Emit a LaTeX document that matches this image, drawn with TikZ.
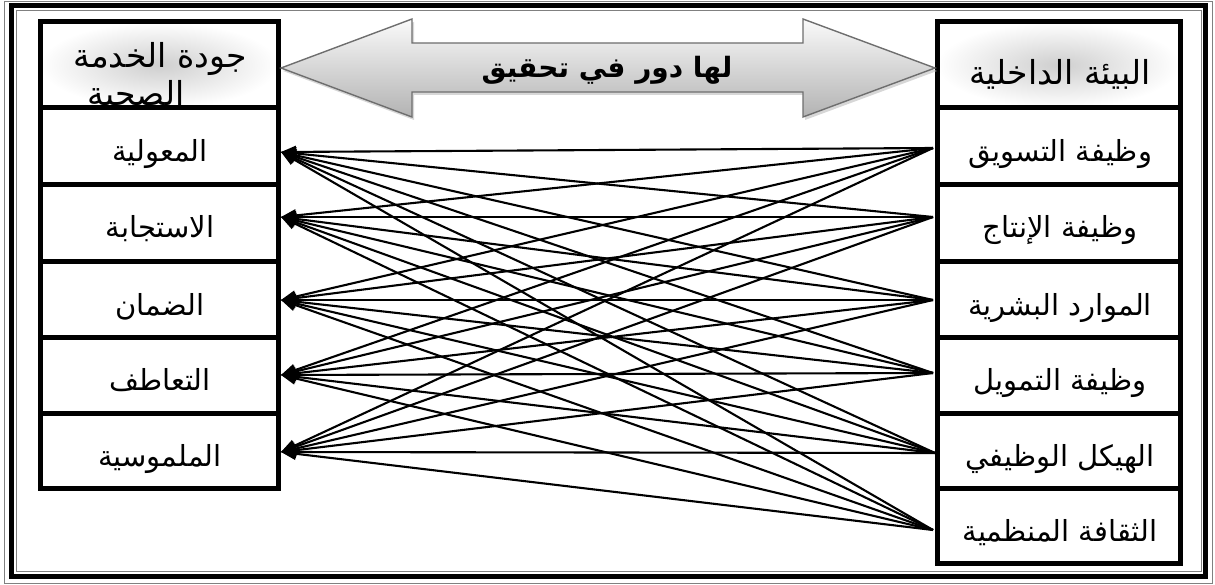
\documentclass[tikz,border=0pt]{standalone}
\usepackage{fontspec}
\newfontfamily\arabicfont[Script=Arabic]{DejaVu Sans}
\TeXXeTstate=1
\usetikzlibrary{arrows.meta,calc}
\definecolor{arrowline}{HTML}{6E6E6E}
\begin{document}
\begin{tikzpicture}[x=1pt,y=-1pt,
  cellbox/.style={draw=black,line width=5pt,inner sep=0pt,fill=white},
  headbox/.style={draw=black,line width=5pt,inner sep=0pt,inner color=gray!38,outer color=white},
  celltext/.style={font=\arabicfont\fontsize{29}{33}\selectfont,inner sep=0pt,anchor=base},
  headtext/.style={font=\arabicfont\fontsize{33}{38}\selectfont,inner sep=0pt,anchor=base},
  boldtext/.style={font=\arabicfont\bfseries\fontsize{28}{32}\selectfont,inner sep=0pt,anchor=base},
  link/.style={line width=2.1pt,-{Triangle[length=15pt,width=12pt]}},
  port/.style={inner sep=0pt}
]
\useasboundingbox (0,0) rectangle (1215,585);
% outer frame
\draw[gray,line width=0.8pt] (4,1.5) rectangle (1212.5,583.5);
\draw[black,line width=5pt] (11.5,6) rectangle (1205.5,576);
\draw[gray,line width=0.8pt] (16,10.5) rectangle (1201,571.5);

% header boxes
\node[headbox,minimum width=238pt,minimum height=86pt] (lh) at (159,65) {};
\node[headbox,minimum width=243pt,minimum height=86pt] (rh) at (1058.5,65) {};
\node[headtext] (lht1) at (160,68) {\beginR جودة الخدمة\endR};
\node[headtext] (lht2) at (136,106) {\beginR الصحية\endR};
\node[headtext] (rht) at (1060,85) {\beginR البيئة الداخلية\endR};

% left rows
\node[cellbox,minimum width=238pt,minimum height=77pt] (l1) at (159,146.5) {};
\node[cellbox,minimum width=238pt,minimum height=77pt] (l2) at (159,223.5) {};
\node[cellbox,minimum width=238pt,minimum height=75pt] (l3) at (159,299.5) {};
\node[cellbox,minimum width=238pt,minimum height=76pt] (l4) at (159,375) {};
\node[cellbox,minimum width=238pt,minimum height=75pt] (l5) at (159,450.5) {};
% right rows
\node[cellbox,minimum width=243pt,minimum height=77pt] (r1) at (1058.5,146.5) {};
\node[cellbox,minimum width=243pt,minimum height=77pt] (r2) at (1058.5,223.5) {};
\node[cellbox,minimum width=243pt,minimum height=75pt] (r3) at (1058.5,299.5) {};
\node[cellbox,minimum width=243pt,minimum height=76pt] (r4) at (1058.5,375) {};
\node[cellbox,minimum width=243pt,minimum height=75pt] (r5) at (1058.5,450.5) {};
\node[cellbox,minimum width=243pt,minimum height=75pt] (r6) at (1058.5,525.5) {};

% row labels
\node[celltext] (l1t) at (160,162) {\beginR المعولية\endR};
\node[celltext] (l2t) at (160,238) {\beginR الاستجابة\endR};
\node[celltext] (l3t) at (160,315) {\beginR الضمان\endR};
\node[celltext] (l4t) at (160,390) {\beginR التعاطف\endR};
\node[celltext] (l5t) at (160,466) {\beginR الملموسية\endR};
\node[celltext] (r1t) at (1060,162) {\beginR وظيفة التسويق\endR};
\node[celltext] (r2t) at (1060,238) {\beginR وظيفة الإنتاج\endR};
\node[celltext] (r3t) at (1060,315) {\beginR الموارد البشرية\endR};
\node[celltext] (r4t) at (1060,390) {\beginR وظيفة التمويل\endR};
\node[celltext] (r5t) at (1060,466) {\beginR الهيكل الوظيفي\endR};
\node[celltext] (r6t) at (1060,541) {\beginR الثقافة المنظمية\endR};

% double arrow
\fill[gray!45,opacity=0.7,shift={(2,3)}]
  (281,68) -- (412,19) -- (412,43) -- (803,43) -- (803,19) -- (935,68)
  -- (803,117) -- (803,92) -- (412,92) -- (412,117) -- cycle;
\draw[arrowline,line width=1.4pt,top color=gray!4,bottom color=gray!60]
  (281,68) -- (412,19) -- (412,43) -- (803,43) -- (803,19) -- (935,68)
  -- (803,117) -- (803,92) -- (412,92) -- (412,117) -- cycle;
\node[boldtext] (mid) at (607,78) {\beginR لها دور في تحقيق\endR};

% ports
\node[port] (L1) at (281,152) {};
\node[port] (L2) at (281,217) {};
\node[port] (L3) at (281,300) {};
\node[port] (L4) at (281,375) {};
\node[port] (L5) at (281,452) {};
\node[port] (R1) at (933,148) {};
\node[port] (R2) at (933,217) {};
\node[port] (R3) at (933,300) {};
\node[port] (R4) at (933,373) {};
\node[port] (R5) at (935,453) {};
\node[port] (R6) at (933,530) {};

\foreach \i in {1,...,6}{
  \foreach \j in {1,...,5}{
    \draw[link] (R\i.center) -- (L\j.center);
  }
}
\end{tikzpicture}
\end{document}
